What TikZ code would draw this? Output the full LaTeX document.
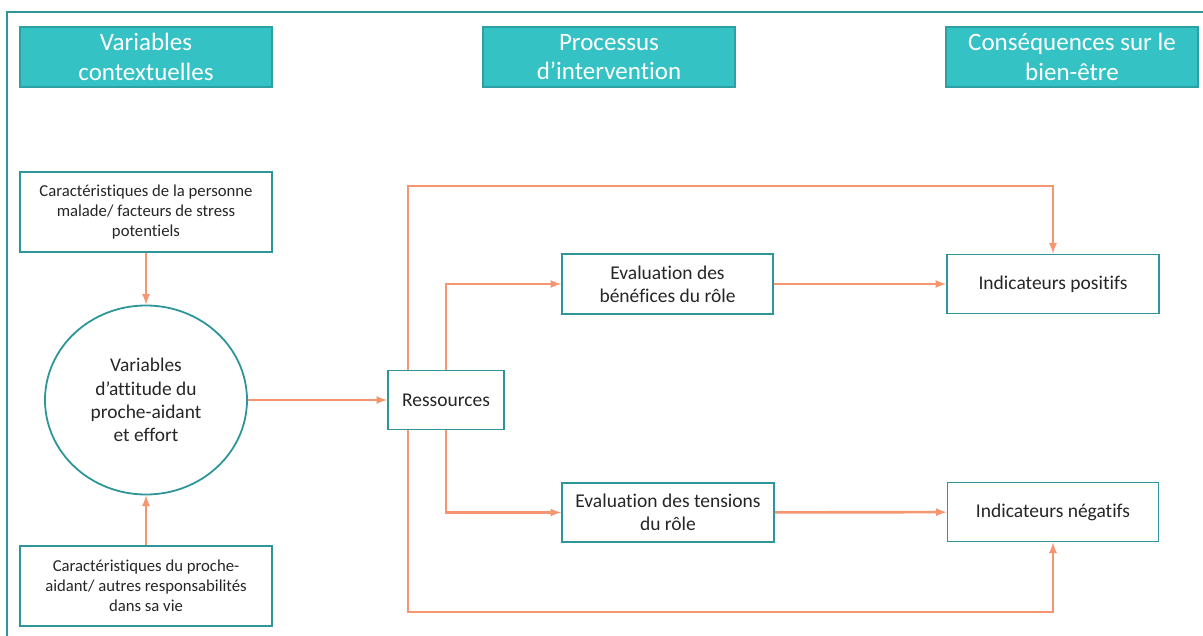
\documentclass[tikz,border=0pt]{standalone}
\usepackage{fontspec}
\setmainfont{Carlito}[Ligatures={NoCommon}]
\usetikzlibrary{shapes.geometric}
\definecolor{tealline}{RGB}{46,150,153}
\definecolor{tealfill}{RGB}{52,194,197}
\definecolor{tealedge}{RGB}{44,160,163}
\definecolor{salmon}{RGB}{245,150,112}
\definecolor{ink}{RGB}{38,38,38}
\begin{document}
\begin{tikzpicture}[x=1pt,y=-1pt,
  head/.style={draw=tealedge,line width=1.5pt,fill=tealfill,text=white,inner sep=0pt,minimum width=252pt,minimum height=60pt,align=center,font=\fontsize{25}{29.5}\selectfont},
  box/.style={draw=tealline,line width=1.8pt,fill=white,text=ink,inner sep=0pt,align=center,font=\fontsize{19.5}{22.7}\selectfont},
  small/.style={box,font=\fontsize{16.7}{19.8}\selectfont},
  flow/.style={draw=salmon,line width=2.6pt,-latex}]
\useasboundingbox (0,0) rectangle (1203,635);
\draw[tealline,line width=1.8pt] (7,640) -- (7,12) -- (1210,12);
\node[head] (hctx) at (146,57) {Variables\\contextuelles};
\node[head] (hproc) at (609,57) {Processus\\d’intervention};
\node[head] (hcons) at (1072,57) {Conséquences sur le\\bien-être};
\node[small,minimum width=252pt,minimum height=80pt] (malade) at (146,212) {Caractéristiques de la personne\\malade/ facteurs de stress\\potentiels};
\node[box,ellipse,minimum width=202pt,minimum height=189pt,font=\fontsize{19.4}{23.3}\selectfont] (attitude) at (146,400) {Variables\\d’attitude du\\proche-aidant\\et effort};
\node[small,minimum width=252pt,minimum height=80pt] (aidant) at (146,586) {Caractéristiques du proche-\\aidant/ autres responsabilités\\dans sa vie};
\node[box,minimum width=116pt,minimum height=59pt] (ress) at (446,400) {Ressources};
\node[box,minimum width=211pt,minimum height=60pt] (benef) at (667.5,284) {Evaluation des\\bénéfices du rôle};
\node[box,minimum width=212pt,minimum height=59pt] (tens) at (668,512.5) {Evaluation des tensions\\du rôle};
\node[box,minimum width=212pt,minimum height=59pt] (pos) at (1053,284) {Indicateurs positifs};
\node[box,minimum width=211pt,minimum height=59pt] (neg) at (1053,512) {Indicateurs négatifs};
\coordinate (toprail) at (0,186);
\coordinate (botrail) at (0,612);
\draw[flow] (malade) -- (attitude);
\draw[flow] (aidant) -- (attitude);
\draw[flow] (attitude) -- (ress);
\draw[flow] (ress.north) |- (benef);
\draw[flow] (ress.south) |- (tens);
\draw[flow] (benef) -- (pos);
\draw[flow] (tens) -- (neg);
\draw[flow] ([xshift=-38pt]ress.north) |- (pos.north |- toprail) -- (pos.north);
\draw[flow] ([xshift=-38pt]ress.south) |- (neg.south |- botrail) -- (neg.south);
\end{tikzpicture}
\end{document}
